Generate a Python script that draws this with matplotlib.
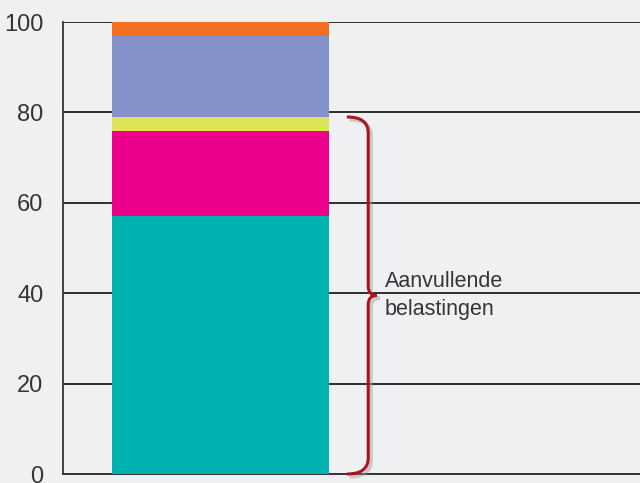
import matplotlib as mpl
mpl.use('Agg')
import matplotlib.pyplot as plt
from matplotlib.path import Path
from matplotlib.patches import PathPatch
from matplotlib.transforms import ScaledTranslation

# stacked shares (percent), bottom to top
segment_names = ['basis', 'aanvulling 1', 'aanvulling 2', 'overig 1', 'overig 2']
segment_values = [57, 19, 3, 18, 3]
segment_colors = ['#00b2b0', '#ec008c', '#dfe356', '#8491c8', '#f26f21']
y_ticks = [0, 20, 40, 60, 80, 100]
brace_label = 'Aanvullende\nbelastingen'
n_brace = 3  # the brace covers the first three segments

plt.rcParams['font.family'] = ['Liberation Sans', 'DejaVu Sans']
bg = '#eff0f2'
ink = '#353535'

fig = plt.figure(figsize=(6.4, 4.83), dpi=100, facecolor=bg)
ax = fig.add_axes([0.0984, 0.0186, 0.9016, 0.9358], facecolor=bg)

# stacked bar
bottom = 0
for name, val, col in zip(segment_names, segment_values, segment_colors):
    ax.bar(0.273, val, width=0.376, bottom=bottom, color=col,
           linewidth=0, zorder=3, label=name)
    bottom += val

ax.set_xlim(0, 1)
ax.set_ylim(0, 100)
ax.set_yticks(y_ticks)
ax.set_xticks([])
ax.yaxis.grid(True, color='#2e2e2e', linewidth=1.4, zorder=1)
ax.set_axisbelow(True)
ax.tick_params(axis='y', length=0, pad=14, labelsize=17, labelcolor=ink)
for s in ['top', 'right']:
    ax.spines[s].set_visible(False)
ax.spines['left'].set_color(ink)
ax.spines['left'].set_linewidth(1.3)
ax.spines['bottom'].set_color(ink)
ax.spines['bottom'].set_linewidth(1.4)

# curly brace along the bottom segments
y0 = 0
y1 = sum(segment_values[:n_brace])
ym = (y0 + y1) / 2.0
x_tip, x_spine, x_mid = 0.492, 0.529, 0.544
r, rm = 3.5, 2.0
verts = [(x_tip, y1), (x_spine, y1), (x_spine, y1 - r),
         (x_spine, ym + rm), (x_spine, ym), (x_mid, ym),
         (x_spine, ym), (x_spine, ym - rm),
         (x_spine, y0 + r), (x_spine, y0), (x_tip, y0)]
codes = [Path.MOVETO, Path.CURVE3, Path.CURVE3,
         Path.LINETO, Path.CURVE3, Path.CURVE3,
         Path.CURVE3, Path.CURVE3,
         Path.LINETO, Path.CURVE3, Path.CURVE3]
brace_path = Path(verts, codes)
# soft grey shadow, shifted down-right
shadow = PathPatch(brace_path, facecolor='none', edgecolor='#999999',
                   linewidth=2.6, alpha=0.45, zorder=3.5, clip_on=False,
                   transform=ax.transData + ScaledTranslation(2 / 72, -2 / 72, fig.dpi_scale_trans))
brace = PathPatch(brace_path, facecolor='none', edgecolor='#b0121b',
                  linewidth=2.2, capstyle='butt', joinstyle='miter', zorder=4,
                  clip_on=False)
ax.add_patch(shadow)
ax.add_patch(brace)

ax.text(0.558, ym, brace_label, fontsize=15.5, color=ink, ha='left',
        va='center', linespacing=1.38, zorder=5)

fig.savefig('out.png', dpi=100, facecolor=bg)
